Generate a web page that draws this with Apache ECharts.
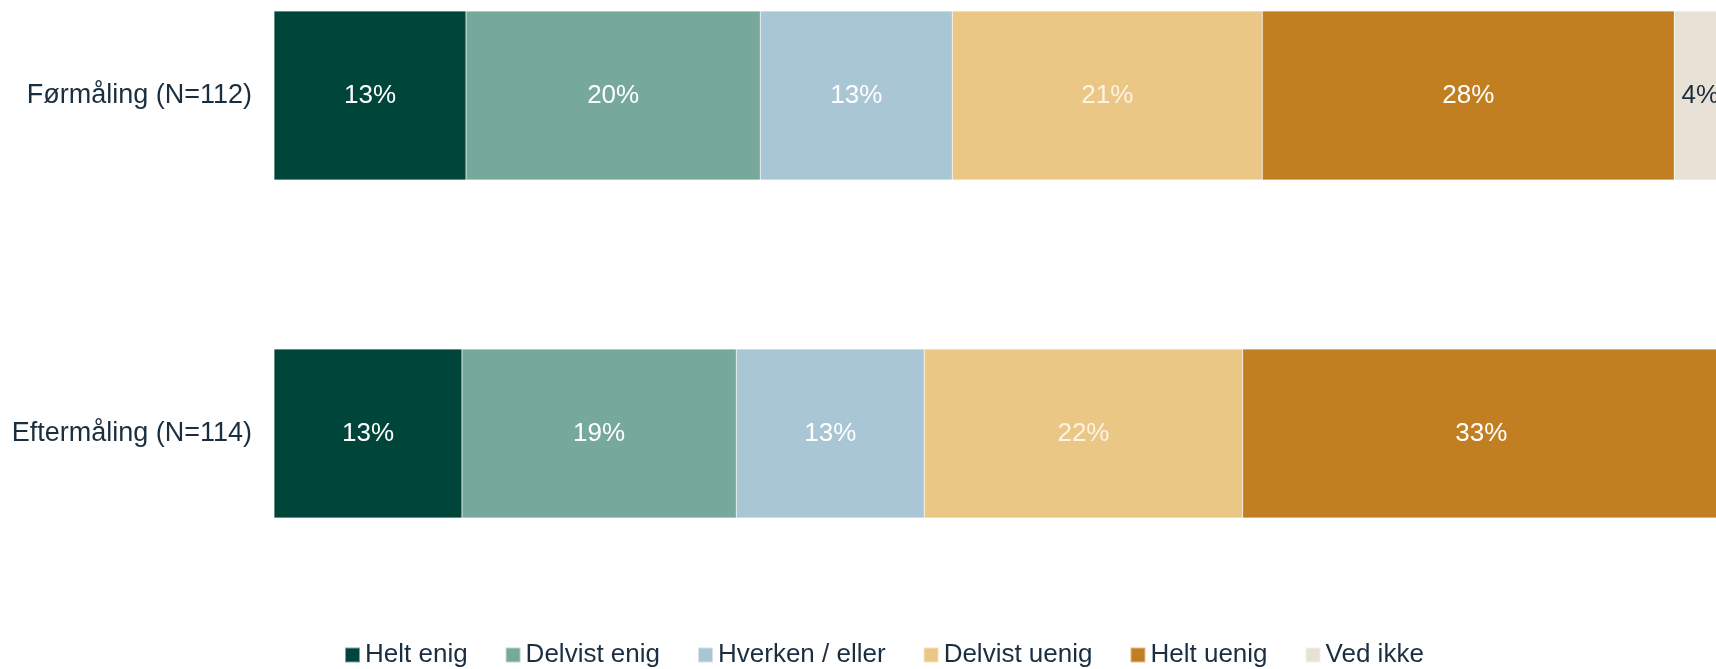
<!DOCTYPE html>
<html>
<head>
<meta charset="utf-8">
<script src="https://cdn.jsdelivr.net/npm/echarts@6/dist/echarts.min.js"></script>
<style>
html,body{margin:0;padding:0;background:#fff;}
#chart{width:1716px;height:669px;}
</style>
</head>
<body>
<div id="chart"></div>
<script>
const categories = ['Førmåling (N=112)', 'Eftermåling (N=114)'];
const seriesNames = ['Helt enig', 'Delvist enig', 'Hverken / eller', 'Delvist uenig', 'Helt uenig', 'Ved ikke'];
const heltEnig = [13.28, 13.0];
const delvistEnig = [20.35, 18.97];
const hverken = [13.28, 13.0];
const delvistUenig = [21.44, 22.02];
const heltUenig = [28.49, 33.0];
const vedIkke = [3.6, 0];
const colors = ['#00453a', '#76a99c', '#a9c6d5', '#ebc785', '#c27f22', '#e8e2d6'];
const labelColors = ['#ffffff', '#ffffff', '#ffffff', '#fbf3e4', '#ffffff', '#1b2e40'];

const values = [heltEnig, delvistEnig, hverken, delvistUenig, heltUenig, vedIkke];
const FONT = '"Liberation Sans", Arial, sans-serif';
const TEXT = '#1b2e40';

const chart = echarts.init(document.getElementById('chart'), null, {renderer: 'canvas'});
chart.setOption({
  animation: false,
  textStyle: {fontFamily: FONT},
  legend: {
    left: 339, top: 637,
    itemWidth: 15, itemHeight: 15, itemGap: 37,
    icon: 'rect',
    textStyle: {fontSize: 26, color: TEXT, fontFamily: FONT},
    data: seriesNames
  },
  grid: {left: 274, top: -73.5, height: 676, width: 110 * 14.46, outerBoundsMode: 'none', containLabel: false},
  xAxis: {type: 'value', min: 0, max: 110, show: false},
  yAxis: {
    type: 'category', data: categories, inverse: true,
    axisLine: {show: false}, axisTick: {show: false},
    axisLabel: {fontSize: 27, color: TEXT, margin: 22, fontFamily: FONT}
  },
  series: values.map((arr, i) => ({
    name: seriesNames[i],
    type: 'bar', stack: 'total', barWidth: 169,
    itemStyle: {color: colors[i], borderColor: 'rgba(255,255,255,0.5)', borderWidth: 0.5},
    label: {
      show: true, position: 'inside', fontSize: 26, color: labelColors[i], fontFamily: FONT,
      formatter: p => p.value > 0 ? Math.round(p.value) + '%' : ''
    },
    data: arr
  }))
});
</script>
</body>
</html>
